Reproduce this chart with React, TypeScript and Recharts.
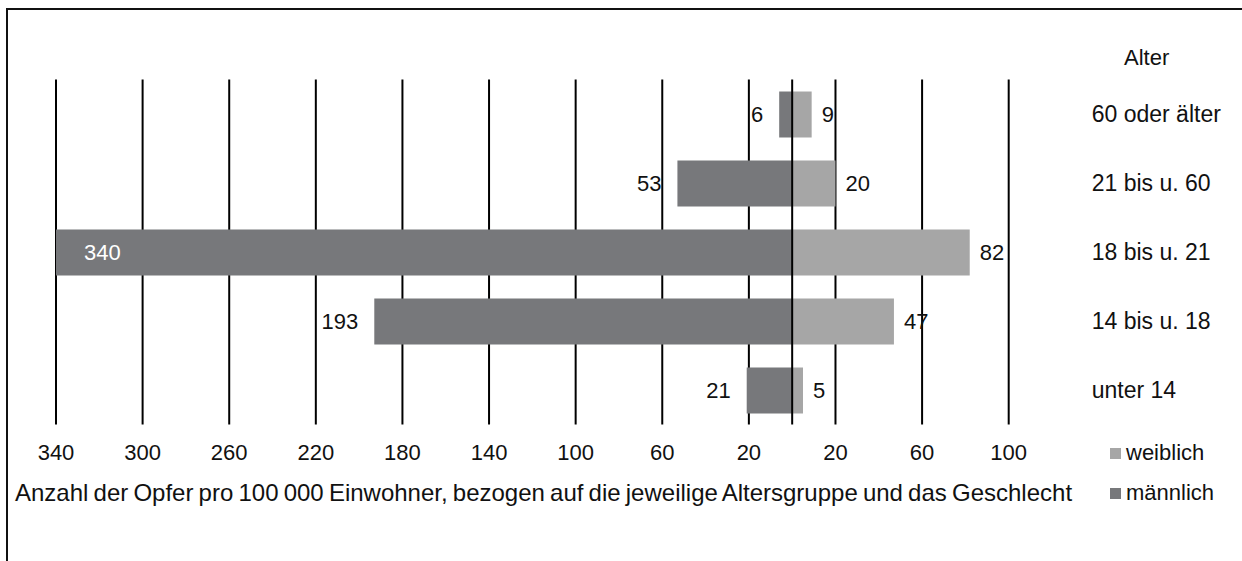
import React from 'react';
import { BarChart, Bar, XAxis, YAxis, CartesianGrid, ReferenceLine, LabelList, Legend } from 'recharts';

// Opfer pro 100 000 Einwohner nach Alter und Geschlecht
const ageGroups = ['60 oder älter', '21 bis u. 60', '18 bis u. 21', '14 bis u. 18', 'unter 14'];
const maleValues = [6, 53, 340, 193, 21];
const femaleValues = [9, 20, 82, 47, 5];
const xTicks = [-340, -300, -260, -220, -180, -140, -100, -60, -20, 20, 60, 100];

const MALE = '#77787b';
const FEMALE = '#a6a6a6';
const FONT = '"Liberation Sans", Arial, sans-serif';
const FS = 22;

const data = ageGroups.map((age, i) => ({
  age,
  male: -maleValues[i], // nach links
  female: femaleValues[i],
  maleLabel: maleValues[i],
  femaleLabel: femaleValues[i],
}));

const MaleLabel = (props: any) => {
  const { x, y, width, height, value } = props;
  const left = Math.min(x, x + width);
  const cy = y + height / 2;
  // no room on the left of the longest bar -> white label inside
  if (left < 100) {
    return (
      <text x={left + 28} y={cy} dy="0.35em" fill="#fff" fontSize={FS} fontFamily={FONT}>
        {value}
      </text>
    );
  }
  return (
    <text x={left - 16} y={cy} dy="0.35em" textAnchor="end" fill="#111" fontSize={FS} fontFamily={FONT}>
      {value}
    </text>
  );
};

const FemaleLabel = (props: any) => {
  const { x, y, width, height, value } = props;
  const right = Math.max(x, x + width);
  return (
    <text x={right + 10} y={y + height / 2} dy="0.35em" fill="#111" fontSize={FS} fontFamily={FONT}>
      {value}
    </text>
  );
};

const LegendBox = () => (
  <div style={{ fontFamily: FONT, fontSize: FS, color: '#111' }}>
    {[
      { name: 'weiblich', color: FEMALE },
      { name: 'männlich', color: MALE },
    ].map((it) => (
      <div key={it.name} style={{ display: 'flex', alignItems: 'center', height: 40 }}>
        <span style={{ display: 'inline-block', width: 11, height: 11, background: it.color, marginRight: 5 }} />
        <span>{it.name}</span>
      </div>
    ))}
  </div>
);

export default function App() {
  return (
    <div style={{ position: 'absolute', left: 0, top: 0, width: 1242, height: 561, background: '#fff', overflow: 'hidden' }}>
      <div
        style={{
          position: 'absolute', left: 6, top: 8, right: 0, bottom: 0,
          borderTop: '2px solid #111', borderLeft: '2px solid #111',
        }}
      />
      <BarChart
        width={1242}
        height={561}
        data={data}
        layout="vertical"
        stackOffset="sign"
        margin={{ top: 79.5, right: 0, bottom: 96.5, left: 56 }}
        style={{ position: 'absolute', left: 0, top: 0 }}
      >
        <CartesianGrid horizontal={false} stroke="#000" strokeWidth={2} />
        <XAxis
          type="number"
          domain={[-340, 100]}
          ticks={xTicks}
          tickFormatter={(v: number) => String(Math.abs(v))}
          axisLine={false}
          tickLine={false}
          tickSize={0}
          tickMargin={20}
          height={40}
          tick={{ fill: '#111', fontSize: FS, fontFamily: FONT }}
          interval={0}
        />
        <YAxis
          type="category"
          dataKey="age"
          orientation="right"
          width={233.3}
          axisLine={false}
          tickLine={false}
          tickSize={0}
          tickMargin={83}
          tick={{ fill: '#111', fontSize: 23, fontFamily: FONT }}
        />
        <Legend
          layout="vertical"
          align="center"
          verticalAlign="middle"
          content={<LegendBox />}
          wrapperStyle={{ position: 'absolute', left: 1110, top: 433, width: 130 }}
        />
        <Bar dataKey="male" stackId="a" fill={MALE} barSize={46} isAnimationActive={false}>
          <LabelList dataKey="maleLabel" content={<MaleLabel />} />
        </Bar>
        <Bar dataKey="female" stackId="a" fill={FEMALE} barSize={46} isAnimationActive={false}>
          <LabelList dataKey="femaleLabel" content={<FemaleLabel />} />
        </Bar>
        <ReferenceLine x={0} stroke="#000" strokeWidth={2} />
      </BarChart>
      <div style={{ position: 'absolute', left: 1124, top: 45, fontFamily: FONT, fontSize: FS, lineHeight: '26px', color: '#111' }}>
        Alter
      </div>
      <div style={{ position: 'absolute', left: 15, top: 480, fontFamily: FONT, fontSize: 24, lineHeight: '26px', color: '#111', whiteSpace: 'nowrap', wordSpacing: -1.5 }}>
        Anzahl der Opfer pro 100 000 Einwohner, bezogen auf die jeweilige Altersgruppe und das Geschlecht
      </div>
    </div>
  );
}
